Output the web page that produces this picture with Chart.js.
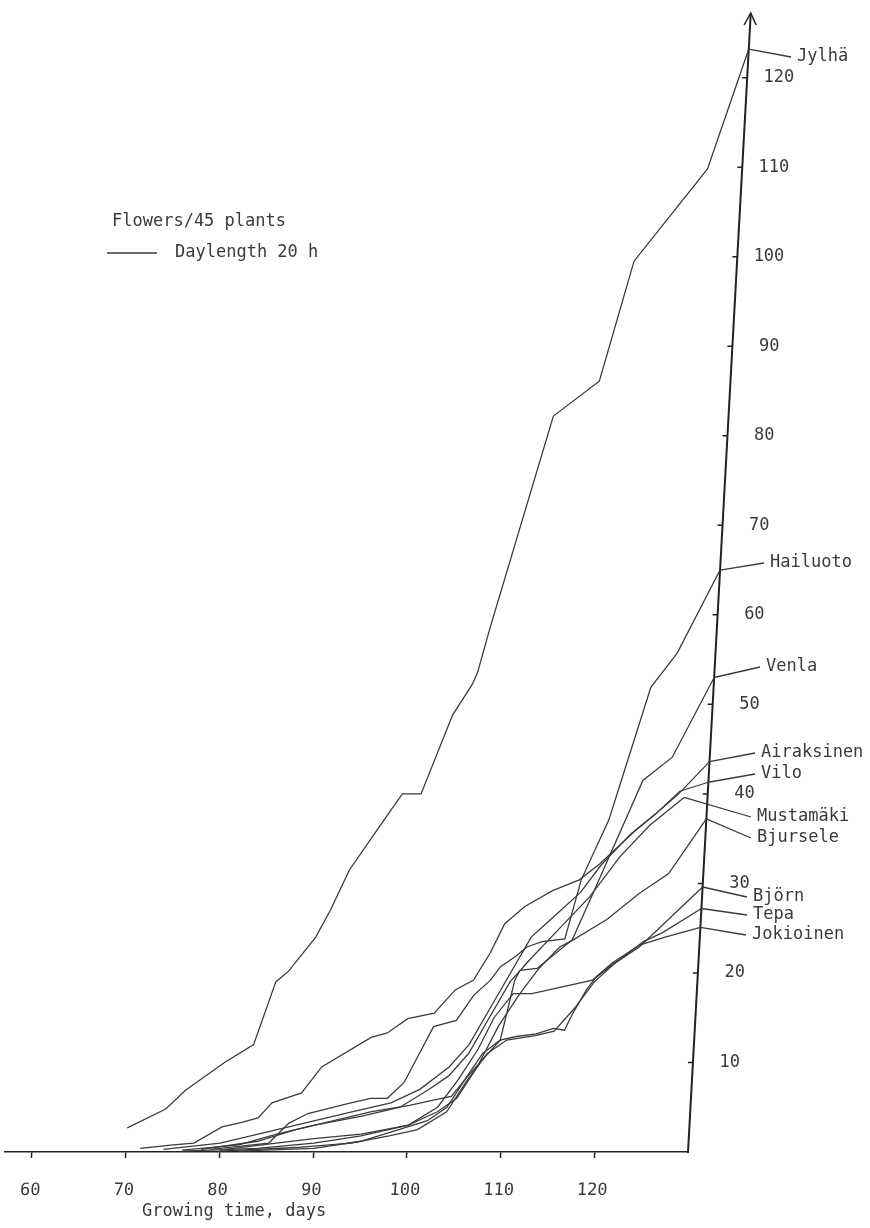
<!DOCTYPE html>
<html>
<head>
<meta charset="utf-8">
<script src="https://cdn.jsdelivr.net/npm/chart.js@4.4.0/dist/chart.umd.min.js"></script>
<style>
html, body { margin: 0; padding: 0; background: #fff; }
</style>
</head>
<body>
<canvas id="myChart" width="870" height="1228"></canvas>
<script>
// flowers per 45 plants, [growing day, count]
const varieties = ['Jylhä','Hailuoto','Venla','Airaksinen','Vilo','Mustamäki','Bjursele','Björn','Tepa','Jokioinen'];

const jylha = [[70,2.7],[74,4.8],[76,6.9],[80,10],[83,12],[85,19],[86.3,20.2],[89,24],[90.4,27],[92.2,31.5],[95.3,36.6],[97.4,40],[99.4,40],[102.3,48.8],[104.2,52.2],[104.7,53.5],[105.8,58.6],[111.3,82.2],[116,86.1],[119,99.5],[126.3,109.8],[130,123.2]];
const hailuoto = [[79,0.3],[85.2,1],[87.2,3.2],[89.2,4.3],[93.4,5.4],[95.8,6],[97.6,6],[99.3,7.8],[102.1,14],[104.5,14.7],[106.2,17.5],[107.9,19.2],[108.9,20.7],[110.4,21.8],[111.6,22.9],[113.2,23.5],[115.6,23.8],[117,30.4],[119.6,37.1],[120.7,41.5],[123.3,51.9],[125.9,55.7],[130,65]];
const venla = [[78,0.3],[84,1.2],[88,2.5],[92,3.5],[96,4.5],[100,5.2],[102.5,5.8],[104.4,6.2],[106,8.4],[107.5,10.3],[109.3,12.5],[110.5,19.2],[111,20.3],[112.8,20.5],[116.4,23.7],[118.9,30.4],[123,41.5],[126,44.1],[130,53]];
const airaksinen = [[71.5,0.4],[75,0.8],[77.2,1],[80.1,2.8],[82.2,3.3],[83.9,3.8],[85.3,5.5],[88.4,6.6],[90.4,9.5],[95.5,12.8],[97.2,13.3],[99.3,14.9],[102.1,15.5],[104.2,18.1],[106.1,19.2],[107.7,22.2],[109.1,25.5],[111.1,27.4],[114,29.2],[116.8,30.4],[118.9,32.2],[122.5,35.9],[124.6,37.8],[126.9,40],[130,43.6]];
const vilo = [[74,0.3],[80,1],[86,2.5],[90,3.5],[94,4.5],[98,5.5],[101,7],[104,9.5],[106,12],[108,16],[110,20],[112,24],[114,26],[117,29],[119,32],[122,35.5],[124.6,37.8],[127,40.3],[130,41.3]];
const mustamaki = [[76,0.2],[82,0.8],[86,2],[90,3],[95,4],[99,5],[102,7],[104,8.5],[106,11],[108,15],[110,19],[112,21.5],[115,25],[118,28.5],[121,33],[124,36.5],[127.5,39.6]];
const bjursele = [[80,0.2],[86,1],[90,1.5],[95,2],[100,3],[103,4.5],[105,6],[107,9.5],[109,14],[111,17.5],[113,20.5],[115.1,22.9],[116.5,23.7],[120,26],[123.3,28.9],[126.3,31.1],[130,37.2]];
const bjorn = [[76,0.1],[84,0.4],[90,1],[95,1.8],[100,3],[103,5],[105,8],[107,11.5],[108.5,15],[110.4,17.7],[112.4,17.7],[118.8,19.2],[120.8,20.9],[123.6,22.9],[130,29.6]];
const tepa = [[80,0.1],[88,0.5],[94,1],[98,1.8],[101,2.5],[104,4.5],[106,8],[108,11],[110,12.5],[113,13],[115,13.5],[117,16],[119,19],[121,21],[124,23.5],[126,24.5],[130,27.2]];
const jokioinen = [[82,0.1],[90,0.4],[95,1.2],[99,2.5],[102,3.5],[104,5],[106,8.5],[107.5,11],[109.3,12.5],[111,12.9],[113.1,13.2],[114.9,13.8],[116.1,13.6],[116.8,15.3],[118.2,18.1],[119.2,19.6],[120.8,21.1],[123.6,23.1],[126.3,24],[130,25.1]];

const series = [jylha, hailuoto, venla, airaksinen, vilo, mustamaki, bjursele, bjorn, tepa, jokioinen];

const xTicks = [60,70,80,90,100,110,120];
const yTicks = [10,20,30,40,50,60,70,80,90,100,110,120];

// where the variety names sit (left x, middle y)
const labelPos = [[797,57],[770,563],[766,667],[761,753],[761,774],[757,817],[757,838],[753,897],[753,915],[752,935]];

const INK = '#3a3a3a';
const FONT = "'DejaVu Sans Mono', monospace";
const K = 0.0551;  // the value axis leans to the right

Chart.defaults.font.family = FONT;
Chart.defaults.font.size = 17;
Chart.defaults.color = INK;

const skew = {
  id: 'skew',
  beforeDraw(chart) {
    const ctx = chart.ctx;
    ctx.save();
    ctx.transform(1, 0, -K, 1, K * chart.chartArea.bottom, 0);
  },
  beforeDatasetsDraw(chart) {
    const ctx = chart.ctx, a = chart.chartArea, y = chart.scales.y;
    ctx.save();
    ctx.strokeStyle = '#222';
    ctx.lineWidth = 1.5;
    ctx.beginPath();
    yTicks.forEach(v => {
      const py = y.getPixelForValue(v);
      ctx.moveTo(a.right - 5, py);
      ctx.lineTo(a.right, py);
    });
    ctx.moveTo(a.right - 6, a.top + 10);
    ctx.lineTo(a.right, a.top - 2);
    ctx.lineTo(a.right + 6, a.top + 10);
    ctx.stroke();
    ctx.restore();
  },
  afterDatasetsDraw(chart) {
    chart.ctx.restore();
  },
  afterDraw(chart) {
    const ctx = chart.ctx, a = chart.chartArea, b = a.bottom, y = chart.scales.y;
    ctx.save();
    ctx.font = '17px ' + FONT;
    ctx.fillStyle = INK;
    ctx.strokeStyle = INK;
    ctx.lineWidth = 1.3;
    ctx.textBaseline = 'middle';

    // value ticks, right aligned beside the leaning axis
    ctx.textAlign = 'right';
    yTicks.forEach(v => {
      const py = y.getPixelForValue(v);
      ctx.fillText(String(v), a.right + K * (b - py) + 47, py);
    });

    ctx.textAlign = 'left';
    chart.data.datasets.forEach((ds, i) => {
      const pts = chart.getDatasetMeta(i).data;
      const p = pts[pts.length - 1];
      const sx = p.x + K * (b - p.y);
      const [lx, ly] = labelPos[i];
      ctx.beginPath();
      ctx.moveTo(sx, p.y);
      ctx.lineTo(lx - 6, ly);
      ctx.stroke();
      ctx.fillText(ds.label, lx, ly);
    });

    ctx.fillText('Flowers/45 plants', 112, 222);
    ctx.beginPath();
    ctx.moveTo(107, 253);
    ctx.lineTo(157, 253);
    ctx.stroke();
    ctx.fillText('Daylength 20 h', 175, 253);
    ctx.fillText('Growing time, days', 142, 1212);
    ctx.restore();
  }
};

var ctx = document.getElementById('myChart').getContext('2d');
var myChart = new Chart(ctx, {
  type: 'line',
  data: {
    datasets: series.map((s, i) => ({
      label: varieties[i],
      data: s,
      borderColor: INK,
      borderWidth: 1.3,
      pointRadius: 0,
      tension: 0,
      clip: false
    }))
  },
  options: {
    responsive: false,
    animation: false,
    layout: { padding: { top: 15, left: 0, right: 0, bottom: 0 } },
    plugins: { legend: { display: false }, tooltip: { enabled: false } },
    scales: {
      x: {
        type: 'linear',
        min: 57.1,
        max: 130,
        afterBuildTicks: s => { s.ticks = xTicks.map(v => ({ value: v })); },
        afterFit: s => { s.height = 76; },
        grid: { drawOnChartArea: false, drawTicks: true, tickLength: 6, color: '#222', lineWidth: 1.5 },
        border: { display: true, color: '#222', width: 1.6 },
        ticks: { padding: 22, maxRotation: 0, autoSkip: false, color: INK }
      },
      y: {
        type: 'linear',
        position: 'right',
        min: 0,
        max: 127,
        afterBuildTicks: s => { s.ticks = yTicks.map(v => ({ value: v })); },
        afterFit: s => { s.width = 182; },
        grid: { drawOnChartArea: false, drawTicks: false },
        border: { display: true, color: '#222', width: 2 },
        ticks: { display: false }
      }
    }
  },
  plugins: [skew]
});
</script>
</body>
</html>
